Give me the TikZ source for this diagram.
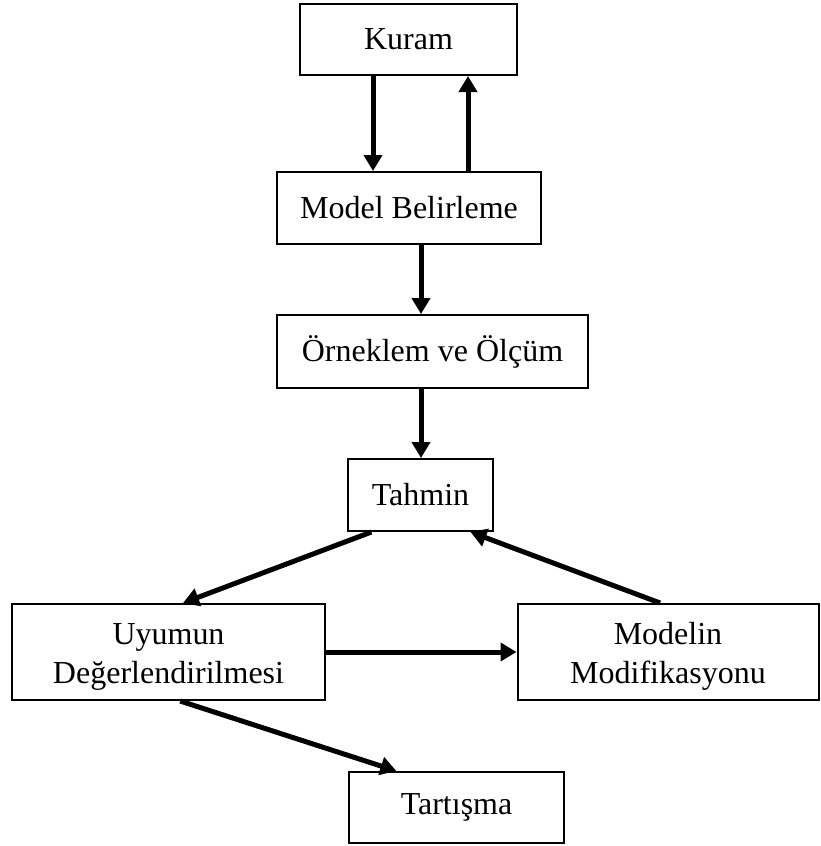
\documentclass[tikz,border=0pt]{standalone}
\usepackage{fontspec}
\setmainfont{Liberation Serif}
\usetikzlibrary{arrows.meta,calc}

\tikzset{
  box/.style={draw, line width=2pt, rectangle, inner sep=0pt, align=center,
              font=\fontsize{32}{39}\selectfont},
  arr/.style={line width=5pt, -{Triangle[length=16pt,width=18pt]}}
}
% taller strut on a first line, to set a two-line text a little lower
\newcommand\lowstrut{\rule{0pt}{30pt}}

\begin{document}
\begin{tikzpicture}[x=1pt,y=-1pt]
  \useasboundingbox (0,0) rectangle (820,846);

  % boxes: centre, width, height
  \node[box, minimum width=217pt, minimum height=71pt] (kuram) at (408.5,39.5) {Kuram};
  \node[box, minimum width=264pt, minimum height=72pt] (model) at (409,208) {Model Belirleme};
  \node[box, minimum width=311pt, minimum height=73pt] (orn) at (432.5,351.5) {Örneklem ve Ölçüm};
  \node[box, minimum width=145pt, minimum height=72pt] (tahmin) at (420.5,495) {Tahmin};
  \node[box, minimum width=313pt, minimum height=96pt] (uyum) at (168.5,652) {\lowstrut Uyumun\\Değerlendirilmesi};
  \node[box, minimum width=301pt, minimum height=96pt] (modif) at (668,652) {\lowstrut Modelin\\Modifikasyonu};
  \node[box, minimum width=215pt, minimum height=71pt] (tart) at (456.5,807.5) {Tartışma};

  % vertical connectors
  \draw[arr] ([xshift=-35.5pt]kuram.south) coordinate (k1) -- (k1 |- model.north);
  \draw[arr] ([xshift=59pt]model.north) coordinate (m1) -- (m1 |- kuram.south);
  \draw[arr] ([xshift=12pt]model.south) coordinate (m2) -- (m2 |- orn.north);
  \draw[arr] ([xshift=0.5pt]tahmin.north) coordinate (t1)
             (t1 |- orn.south) -- (t1);

  % diagonal and horizontal connectors
  \draw[arr] ($(tahmin.south west)!0.166!(tahmin.south east)$)
          -- ($(uyum.north west)!0.546!(uyum.north east)$);
  \draw[arr] ($(modif.north west)!0.474!(modif.north east)$)
          -- ($(tahmin.south west)!0.84!(tahmin.south east)$);
  \draw[arr] (uyum.east) -- (modif.west);
  \draw[arr] ($(uyum.south west)!0.537!(uyum.south east)$)
          -- ($(tart.north west)!0.223!(tart.north east)$);
\end{tikzpicture}
\end{document}
